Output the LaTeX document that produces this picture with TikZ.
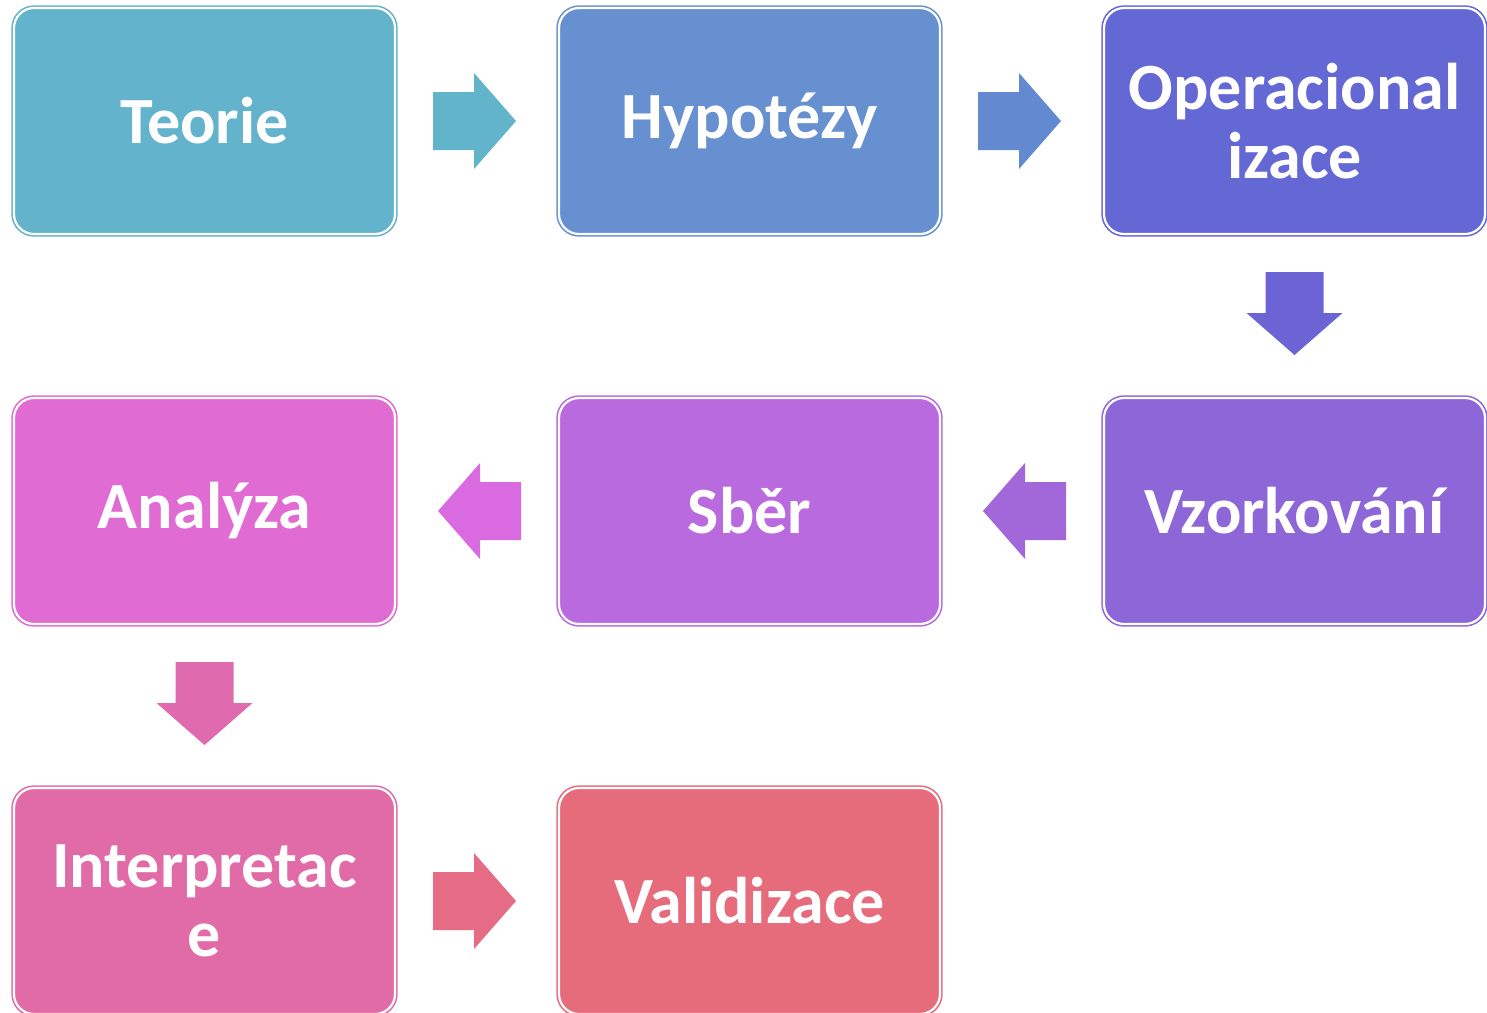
\documentclass[tikz,border=0pt]{standalone}
\usepackage{fontspec}
\setmainfont{Carlito}
\usetikzlibrary{calc}

\definecolor{cTeo}{HTML}{62B3CB}
\definecolor{cHyp}{HTML}{6690D0}
\definecolor{cOpe}{HTML}{6468D4}
\definecolor{cVzo}{HTML}{8D67D7}
\definecolor{cSbe}{HTML}{B96ADE}
\definecolor{cAna}{HTML}{E06BD3}
\definecolor{cInt}{HTML}{E16BA6}
\definecolor{cVal}{HTML}{E66B7B}
\definecolor{aTeo}{HTML}{62B4CB}
\definecolor{aHyp}{HTML}{6389D1}
\definecolor{aOpe}{HTML}{6C63D4}
\definecolor{aVzo}{HTML}{A267D8}
\definecolor{aSbe}{HTML}{D96AE0}
\definecolor{aAna}{HTML}{E06AAE}
\definecolor{aInt}{HTML}{E66B84}

\tikzset{
  krok/.style={rounded corners=20pt, minimum width=381pt, minimum height=226pt,
    inner sep=0pt, outer sep=0pt, fill=#1, draw=white, line width=2.2pt,
    preaction={draw=#1, line width=5.4pt}, text=white, align=center,
    font=\bfseries\fontsize{66}{69}\selectfont},
  sipka/.pic={\fill (-44,-29) -- (-3,-29) -- (-3,-48) -- (39,0) -- (-3,48) -- (-3,29) -- (-44,29) -- cycle;}
}

\begin{document}
\begin{tikzpicture}[x=1pt, y=-1pt]

\useasboundingbox (0,0) rectangle (1487,1012);

\node[krok=cTeo] (teo) at (204.5,121) {Teorie};
\node[krok=cHyp] (hyp) at (749.5,121) {Hypotézy};
\node[krok=cOpe] (ope) at (1294.5,121) {Operacional\\izace};
\node[krok=cVzo] (vzo) at (1294.5,511) {Vzorkování};
\node[krok=cSbe] (sber) at (749.5,511) {Sběr};
\node[krok=cAna] (ana) at (204.5,511) {Analýza};
\node[krok=cInt] (int) at (204.5,901) {Interpretac\\e};
\node[krok=cVal] (val) at (749.5,901) {Validizace};

% sipky mezi kroky
\pic[fill=aTeo] at ($(teo.east)!0.5!(hyp.west)$) {sipka};
\pic[fill=aHyp] at ($(hyp.east)!0.5!(ope.west)$) {sipka};
\pic[fill=aOpe, rotate=-90] at ($(ope.south)!0.5!(vzo.north)$) {sipka};
\pic[fill=aVzo, rotate=180] at ($(vzo.west)!0.5!(sber.east)$) {sipka};
\pic[fill=aSbe, rotate=180] at ($(sber.west)!0.5!(ana.east)$) {sipka};
\pic[fill=aAna, rotate=-90] at ($(ana.south)!0.5!(int.north)$) {sipka};
\pic[fill=aInt] at ($(int.east)!0.5!(val.west)$) {sipka};

\end{tikzpicture}
\end{document}
